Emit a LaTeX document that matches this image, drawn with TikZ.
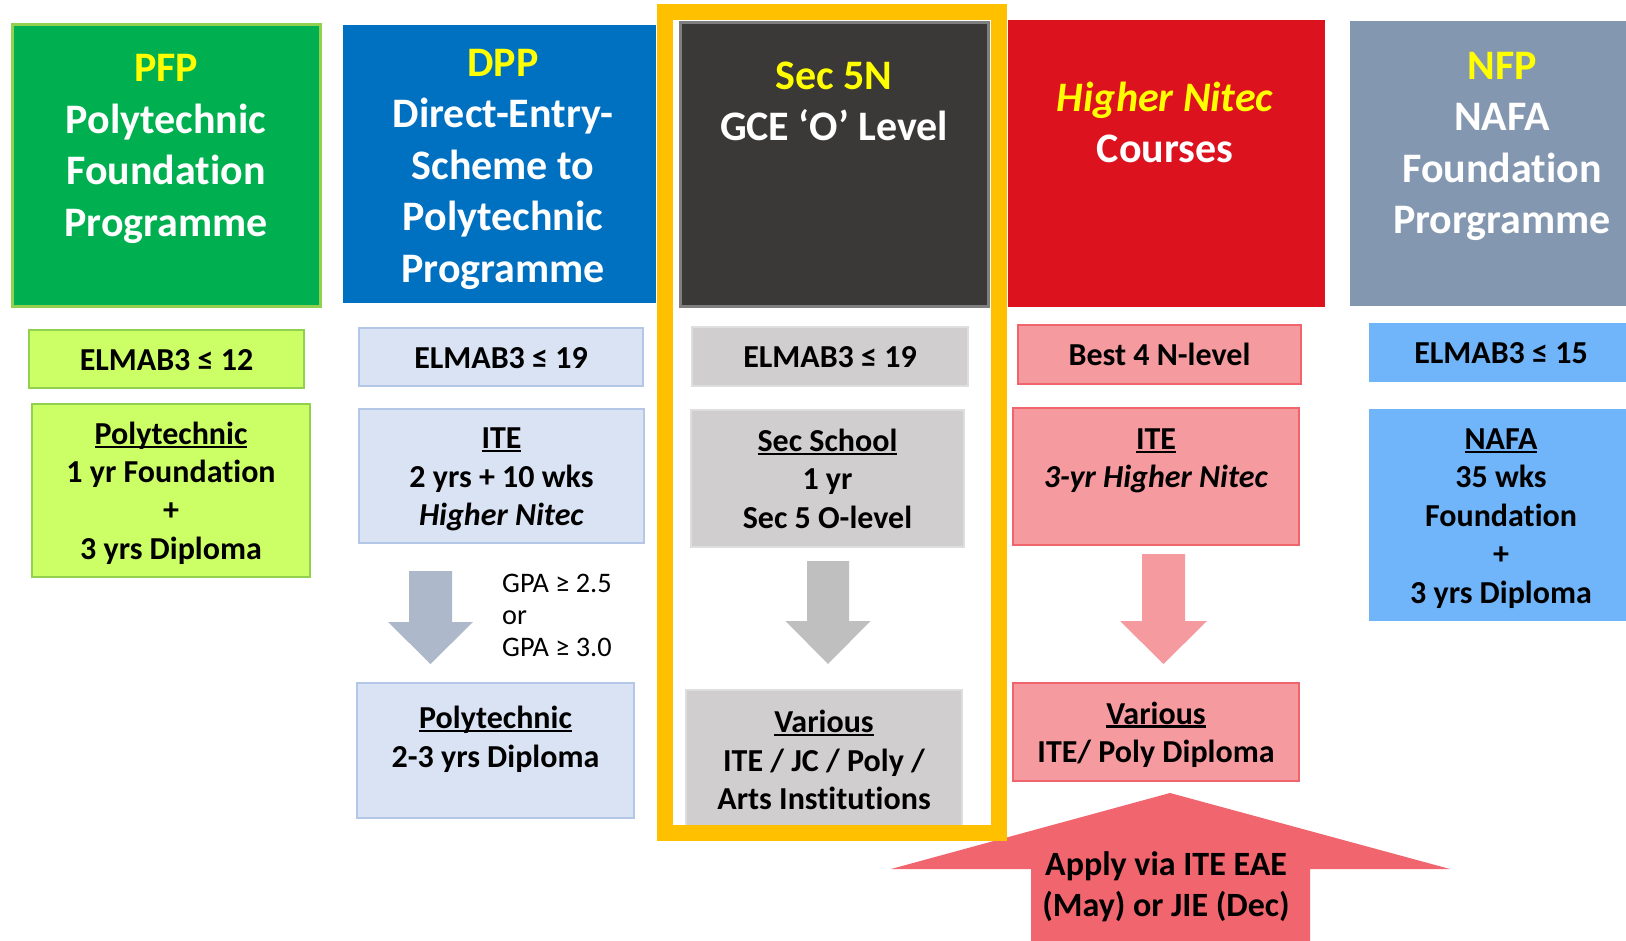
\documentclass[tikz,border=0pt]{standalone}
\usepackage{fontspec}
\setmainfont{Carlito}[Ligatures=CommonOff]
\usepackage{tikz}

\definecolor{pfpgreen}{RGB}{0,176,80}
\definecolor{limeline}{RGB}{146,208,80}
\definecolor{limefill}{RGB}{204,255,102}
\definecolor{dppblue}{RGB}{0,112,192}
\definecolor{dppfill}{RGB}{218,227,243}
\definecolor{dppline}{RGB}{180,199,231}
\definecolor{dpparrow}{RGB}{173,185,202}
\definecolor{secdark}{RGB}{59,56,56}
\definecolor{secline}{RGB}{127,127,127}
\definecolor{secfill}{RGB}{208,206,206}
\definecolor{secedge}{RGB}{222,222,222}
\definecolor{secarrow}{RGB}{191,191,191}
\definecolor{hnred}{RGB}{220,18,31}
\definecolor{hnfill}{RGB}{245,154,158}
\definecolor{hnline}{RGB}{240,100,108}
\definecolor{applyred}{RGB}{241,102,110}
\definecolor{nfpgrey}{RGB}{132,151,176}
\definecolor{nfpfill}{RGB}{112,181,249}
\definecolor{frameyellow}{RGB}{255,192,0}
\definecolor{titleyellow}{RGB}{255,255,0}

% underline sitting close to the baseline
\newcommand{\undl}[1]{\leavevmode\setbox0\hbox{#1}\rlap{\rule[-0.11em]{\wd0}{0.065em}}\box0}
% line box like the slide's text lines
\newcommand{\lstrut}{\rule[-0.25em]{0pt}{1.2em}}
% colour, x, top, head, tip, shaft half width, head half width
\newcommand{\downblock}[7]{%
  \fill[#1] (#2-#6,#3) -- (#2+#6,#3) -- (#2+#6,#4) -- (#2+#7,#4) -- (#2,#5)
    -- (#2-#7,#4) -- (#2-#6,#4) -- cycle;}

\begin{document}
\begin{tikzpicture}[x=1pt,y=-1pt,
    hdrbox/.style={inner sep=0pt, line width=3},
    hdr/.style={inner sep=0pt, align=center, text=white,
      font=\fontsize{42}{51.5}\selectfont\bfseries},
    body/.style={inner sep=0pt, align=center, line width=2,
      font=\fontsize{32}{38.4}\selectfont\bfseries},
    pfpbox/.style={body, fill=limefill, draw=limeline},
    dppbox/.style={body, fill=dppfill, draw=dppline},
    secbox/.style={body, fill=secfill, draw=secedge},
    hnbox/.style={body, fill=hnfill, draw=hnline},
    nfpbox/.style={body, fill=nfpfill}]
  \useasboundingbox (0,0) rectangle (1626,941);
  \clip (0,0) rectangle (1626,941);

  % headers
  \node[hdrbox, fill=pfpgreen, draw=limeline, minimum width=308, minimum height=282] (pfp) at (166,166) {};
  \node[hdr] (pfptitle) at (166,149) {\textcolor{titleyellow}{PFP}\\Polytechnic\\Foundation\\Programme};
  \node[hdrbox, fill=dppblue, minimum width=313, minimum height=278] (dpp) at (499.5,164) {};
  \node[hdr] (dpptitle) at (503,169) {\textcolor{titleyellow}{DPP}\\Direct-Entry-\\Scheme to\\Polytechnic\\Programme};
  \node[hdrbox, fill=secdark, draw=secline, minimum width=308, minimum height=284] (sec) at (834,165) {};
  \node[hdr] (sectitle) at (834,101.5) {\textcolor{titleyellow}{Sec 5N}\\GCE ‘O’ Level};
  \node[hdrbox, fill=hnred, minimum width=317, minimum height=287] (hn) at (1166.5,163.5) {};
  \node[hdr] (hntitle) at (1165,122.5) {\textcolor{titleyellow}{\itshape Higher Nitec}\\Courses};
  \node[hdrbox, fill=nfpgrey, minimum width=304, minimum height=285] (nfp) at (1502,163.5) {};
  \node[hdr] (nfptitle) at (1502,146.5) {\textcolor{titleyellow}{NFP}\\NAFA\\Foundation\\Prorgramme};

  % entry requirements
  \node[pfpbox, minimum width=275, minimum height=58] (pfpreq) at (166.5,359) {\lstrut ELMAB3 ≤ 12};
  \node[dppbox, minimum width=284, minimum height=58] (dppreq) at (501,357) {\lstrut ELMAB3 ≤ 19};
  \node[secbox, minimum width=276, minimum height=59] (secreq) at (830,356.5) {\lstrut ELMAB3 ≤ 19};
  \node[hnbox, minimum width=283, minimum height=59] (hnreq) at (1159.5,354.5) {\lstrut Best 4 N-level};
  \node[nfpbox, minimum width=264, minimum height=59] (nfpreq) at (1501,352.5) {\lstrut ELMAB3 ≤ 15};

  % courses
  \node[pfpbox, minimum width=278, minimum height=173] (pfpcourse) at (171,490.5)
    {\lstrut\undl{Polytechnic}\\1 yr Foundation\\+\\3 yrs Diploma\lstrut};
  \node[dppbox, minimum width=285, minimum height=134] (dppite) at (501.5,476)
    {\lstrut\undl{ITE}\\2 yrs + 10 wks\\\textit{Higher Nitec}\lstrut};
  \node[secbox, minimum width=273, minimum height=137] (secschool) at (827.5,478.5)
    {\lstrut\undl{Sec School}\\1 yr\\Sec 5 O-level\lstrut};
  \node[hnbox, minimum width=286, minimum height=137] (hnite) at (1156,476.5)
    {\lstrut\undl{ITE}\\\textit{3-yr Higher Nitec}\\\lstrut};
  \node[nfpbox, minimum width=264, minimum height=212] (nafa) at (1501,515)
    {\lstrut\undl{NAFA}\\35 wks\\Foundation\\+\\3 yrs Diploma\lstrut};

  % progression arrows
  \downblock{dpparrow}{430.5}{571}{622}{664}{21.5}{42.5}
  \downblock{secarrow}{828}{561}{621}{664}{21}{42.5}
  \downblock{hnfill}{1163.5}{554}{621}{664}{21.5}{43.5}
  \node[inner sep=0pt, anchor=west, align=left, font=\fontsize{28.3}{32}\selectfont] (gpa) at (502,615)
    {GPA ≥ 2.5\\or\\GPA ≥ 3.0};

  % after
  \node[dppbox, minimum width=277, minimum height=135] (dpppoly) at (495.5,750.5)
    {\lstrut\undl{Polytechnic}\\2-3 yrs Diploma\\[-11pt]\lstrut};
  \node[secbox, minimum width=276, minimum height=140] (secvar) at (824,760)
    {\lstrut\undl{Various}\\ITE / JC / Poly /\\Arts Institutions\lstrut};
  \node[hnbox, minimum width=286, minimum height=98] (hnvar) at (1156,732)
    {\lstrut\undl{Various}\\ITE/ Poly Diploma\lstrut};

  \fill[applyred] (1170,793) -- (1450,869) -- (1310,869) -- (1310,950)
    -- (1031,950) -- (1031,869) -- (891,869) -- cycle;
  \draw[frameyellow, line width=16] (665,12) rectangle (999,833);
  \node[inner sep=0pt, align=center, font=\fontsize{34}{41}\selectfont\bfseries] (apply) at (1166,886.5)
    {Apply via ITE EAE\\(May) or JIE (Dec)};
\end{tikzpicture}
\end{document}
